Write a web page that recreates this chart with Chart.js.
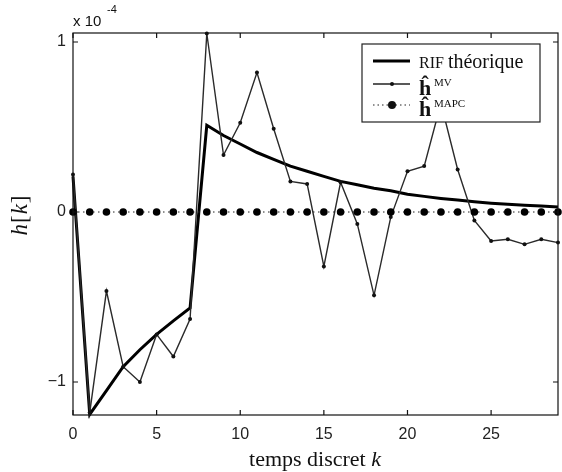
<!DOCTYPE html>
<html>
<head>
<meta charset="utf-8">
<script src="https://cdn.jsdelivr.net/npm/chart.js@4/dist/chart.umd.min.js"></script>
<style>
  html, body { margin: 0; padding: 0; background: #fff; }
  canvas { display: block; }
</style>
</head>
<body>
<canvas id="chart" width="562" height="472"></canvas>
<script>
// discrete time index k
const kValues = [0, 1, 2, 3, 4, 5, 6, 7, 8, 9, 10, 11, 12, 13, 14, 15, 16, 17, 18, 19, 20, 21, 22, 23, 24, 25, 26, 27, 28, 29];
// values in units of 1e-4
const rifTheorique = [0.21, -1.19, -1.05, -0.91, -0.81, -0.72, -0.64, -0.565, 0.51, 0.45, 0.40, 0.35, 0.31, 0.27, 0.24, 0.21, 0.18, 0.16, 0.14, 0.125, 0.105, 0.092, 0.08, 0.07, 0.06, 0.052, 0.045, 0.04, 0.035, 0.03];
const hMV = [0.22, -1.18, -0.465, -0.91, -1.0, -0.72, -0.85, -0.63, 1.05, 0.335, 0.525, 0.82, 0.49, 0.18, 0.165, -0.32, 0.175, -0.07, -0.49, -0.03, 0.24, 0.27, 0.64, 0.25, -0.05, -0.17, -0.16, -0.19, -0.16, -0.18];
const hMAPC = [0, 0, 0, 0, 0, 0, 0, 0, 0, 0, 0, 0, 0, 0, 0, 0, 0, 0, 0, 0, 0, 0, 0, 0, 0, 0, 0, 0, 0, 0];
const xTicks = [0, 5, 10, 15, 20, 25];
const yTicks = [-1, 0, 1];

const sansFont = '"Liberation Sans", Arial, sans-serif';
const serifFont = '"Liberation Serif", "Times New Roman", serif';

function toPoints(values) {
    return kValues.map((k, i) => ({ x: k, y: values[i] }));
}

// box, inward ticks, axis titles, exponent and legend
const decorPlugin = {
    id: 'decor',
    afterDraw(chart) {
        const { ctx, chartArea: area, scales: { x, y } } = chart;
        ctx.save();
        ctx.strokeStyle = '#111';
        ctx.lineWidth = 1.2;
        ctx.strokeRect(area.left, area.top, area.right - area.left, area.bottom - area.top);

        const tl = 5;
        ctx.beginPath();
        xTicks.forEach(v => {
            const px = x.getPixelForValue(v);
            ctx.moveTo(px, area.bottom); ctx.lineTo(px, area.bottom - tl);
            ctx.moveTo(px, area.top); ctx.lineTo(px, area.top + tl);
        });
        yTicks.forEach(v => {
            const py = y.getPixelForValue(v);
            ctx.moveTo(area.left, py); ctx.lineTo(area.left + tl, py);
            ctx.moveTo(area.right, py); ctx.lineTo(area.right - tl, py);
        });
        ctx.stroke();

        // exponent label
        ctx.fillStyle = '#111';
        ctx.textBaseline = 'alphabetic';
        ctx.textAlign = 'left';
        ctx.font = '15px ' + sansFont;
        ctx.fillText('x 10', 73, 26);
        ctx.font = '11px ' + sansFont;
        ctx.fillText('-4', 107, 13);

        // x title
        const t1 = 'temps discret ';
        ctx.font = '22px ' + serifFont;
        const w1 = ctx.measureText(t1).width;
        ctx.font = 'italic 22px ' + serifFont;
        const w2 = ctx.measureText('k').width;
        const sx = 315 - (w1 + w2) / 2;
        ctx.font = '22px ' + serifFont;
        ctx.fillText(t1, sx, 466);
        ctx.font = 'italic 22px ' + serifFont;
        ctx.fillText('k', sx + w1, 466);

        // y title
        ctx.save();
        ctx.translate(27, 215);
        ctx.rotate(-Math.PI / 2);
        const parts = [['h', true], ['[', false], ['k', true], [']', false]];
        let total = 0;
        parts.forEach(p => {
            ctx.font = (p[1] ? 'italic ' : '') + '23px ' + serifFont;
            total += ctx.measureText(p[0]).width + 1;
        });
        let py = -total / 2;
        parts.forEach(p => {
            ctx.font = (p[1] ? 'italic ' : '') + '23px ' + serifFont;
            ctx.fillText(p[0], py, 0);
            py += ctx.measureText(p[0]).width + 1;
        });
        ctx.restore();

        // legend
        const lx = 362, ly = 44, lw = 178, lh = 78;
        ctx.fillStyle = '#fff';
        ctx.fillRect(lx, ly, lw, lh);
        ctx.strokeStyle = '#222';
        ctx.lineWidth = 1.2;
        ctx.strokeRect(lx, ly, lw, lh);

        // row 1
        ctx.strokeStyle = '#000';
        ctx.lineWidth = 3;
        ctx.beginPath(); ctx.moveTo(373, 61); ctx.lineTo(410, 61); ctx.stroke();
        ctx.fillStyle = '#111';
        ctx.font = '16px ' + serifFont;
        ctx.fillText('RIF', 419, 68);
        const wr = ctx.measureText('RIF ').width;
        ctx.font = '20px ' + serifFont;
        ctx.fillText('théorique', 419 + wr, 68);

        // row 2
        ctx.strokeStyle = '#222';
        ctx.lineWidth = 1.3;
        ctx.beginPath(); ctx.moveTo(373, 84); ctx.lineTo(410, 84); ctx.stroke();
        ctx.beginPath(); ctx.arc(392, 84, 2, 0, Math.PI * 2); ctx.fillStyle = '#111'; ctx.fill();
        ctx.font = 'bold 22px ' + serifFont;
        ctx.fillText('ĥ', 419, 95);
        ctx.font = '11px ' + serifFont;
        ctx.fillText('MV', 434, 86);

        // row 3
        ctx.lineWidth = 1;
        ctx.setLineDash([1.5, 3]);
        ctx.beginPath(); ctx.moveTo(373, 105); ctx.lineTo(410, 105); ctx.stroke();
        ctx.setLineDash([]);
        ctx.beginPath(); ctx.arc(392, 105, 4, 0, Math.PI * 2); ctx.fill();
        ctx.font = 'bold 22px ' + serifFont;
        ctx.fillText('ĥ', 419, 116);
        ctx.font = '11px ' + serifFont;
        ctx.fillText('MAPC', 434, 107);
        ctx.restore();
    }
};

const chart = new Chart(document.getElementById('chart').getContext('2d'), {
    type: 'line',
    data: {
        datasets: [
            {
                label: 'RIF théorique',
                data: toPoints(rifTheorique),
                borderColor: '#000',
                borderWidth: 3,
                pointRadius: 0,
                tension: 0,
                clip: false,
                order: 2
            },
            {
                label: 'MV',
                data: toPoints(hMV),
                borderColor: '#2a2a2a',
                borderWidth: 1.4,
                pointRadius: 2,
                pointBackgroundColor: '#111',
                pointBorderColor: '#111',
                pointBorderWidth: 0,
                tension: 0,
                clip: false,
                order: 1
            },
            {
                label: 'MAPC',
                data: toPoints(hMAPC),
                borderColor: '#222',
                borderWidth: 1,
                borderDash: [1.5, 3.5],
                pointRadius: 3.8,
                pointBackgroundColor: '#000',
                pointBorderColor: '#000',
                pointBorderWidth: 0,
                tension: 0,
                clip: false,
                order: 0
            }
        ]
    },
    options: {
        responsive: false,
        animation: false,
        layout: { padding: { top: 33, right: 3, left: 0, bottom: 0 } },
        plugins: {
            legend: { display: false },
            tooltip: { enabled: false }
        },
        scales: {
            x: {
                type: 'linear',
                min: 0,
                max: 29,
                grid: { display: false, drawTicks: false },
                border: { display: false },
                afterBuildTicks: scale => { scale.ticks = xTicks.map(v => ({ value: v })); },
                afterFit: scale => { scale.height = 57; },
                ticks: {
                    padding: 10,
                    maxRotation: 0,
                    color: '#222',
                    font: { family: sansFont, size: 16 },
                    callback: v => String(v)
                }
            },
            y: {
                min: -1.194,
                max: 1.053,
                grid: { display: false, drawTicks: false },
                border: { display: false },
                afterBuildTicks: scale => { scale.ticks = yTicks.map(v => ({ value: v })); },
                afterFit: scale => { scale.width = 73; },
                ticks: {
                    padding: 7,
                    color: '#222',
                    font: { family: sansFont, size: 16 },
                    callback: v => v < 0 ? '\u2212' + Math.abs(v) : String(v)
                }
            }
        }
    },
    plugins: [decorPlugin]
});
</script>
</body>
</html>
